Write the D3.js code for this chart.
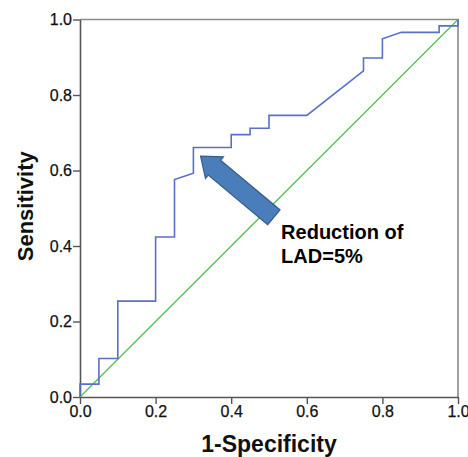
<!DOCTYPE html>
<html>
<head>
<meta charset="utf-8">
<script src="https://cdn.jsdelivr.net/npm/d3@7"></script>
<style>
  body { margin: 0; background: #fff; }
  text { font-family: Arial, "Liberation Sans", sans-serif; }
</style>
</head>
<body>
<div id="chart"></div>
<script>
// ROC curve
var fpr = [0, 0, 0.05, 0.05, 0.10, 0.10, 0.20, 0.20, 0.25, 0.25, 0.30, 0.30, 0.40, 0.40,
           0.45, 0.45, 0.50, 0.50, 0.60, 0.75, 0.75, 0.80, 0.80, 0.85, 0.95, 0.95, 1.0, 1.0];
var tpr = [0, 0.034, 0.034, 0.102, 0.102, 0.254, 0.254, 0.424, 0.424, 0.576, 0.593, 0.661, 0.661, 0.695,
           0.695, 0.712, 0.712, 0.746, 0.746, 0.864, 0.898, 0.898, 0.949, 0.966, 0.966, 0.983, 0.983, 1.0];
var refLine = [[0, 0], [1, 1]];
var ticks = [0, 0.2, 0.4, 0.6, 0.8, 1.0];
var arrowTip = [0.319, 0.638], arrowTail = [0.513, 0.476];
var noteAt = [0.532, 0.419];
var noteLines = ["Reduction of", "LAD=5%"];

var W = 468, H = 457;
var margin = {top: 19.5, right: 10, bottom: 60, left: 80};

var svg = d3.select("#chart").append("svg")
    .attr("width", W)
    .attr("height", H);

var x = d3.scaleLinear().domain([0, 1]).range([margin.left, W - margin.right]);
var y = d3.scaleLinear().domain([0, 1]).range([H - margin.bottom, margin.top]);

// frame (top/right)
svg.append("path")
    .attr("d", "M" + x(0) + "," + y(1) + "H" + x(1) + "V" + y(0))
    .attr("fill", "none")
    .attr("stroke", "#8a8a8a")
    .attr("stroke-width", 1.6);

// axes
var xAxis = svg.append("g")
    .attr("transform", "translate(0," + y(0) + ")")
    .call(d3.axisBottom(x).tickValues(ticks).tickFormat(d3.format(".1f")).tickSize(7).tickSizeOuter(0));
var yAxis = svg.append("g")
    .attr("transform", "translate(" + x(0) + ",0)")
    .call(d3.axisLeft(y).tickValues(ticks).tickFormat(d3.format(".1f")).tickSize(7).tickSizeOuter(0));

[xAxis, yAxis].forEach(function (g) {
    g.attr("font-size", 16).attr("font-family", "Arial, 'Liberation Sans', sans-serif");
    g.select(".domain").attr("stroke", "#555").attr("stroke-width", 1.6);
    g.selectAll(".tick line").attr("stroke", "#555").attr("stroke-width", 1.4);
    g.selectAll(".tick text")
        .attr("fill", "#111")
        .attr("stroke", "#111")
        .attr("stroke-width", 0.25);
});
xAxis.selectAll(".tick text").attr("dy", "0.95em").attr("y", 5);
yAxis.selectAll(".tick text").attr("x", -8);

// reference diagonal
svg.append("path")
    .datum(refLine)
    .attr("d", d3.line().x(function (d) { return x(d[0]); }).y(function (d) { return y(d[1]); }))
    .attr("fill", "none")
    .attr("stroke", "#4fc24f")
    .attr("stroke-width", 1.3);

// ROC curve
svg.append("path")
    .datum(d3.zip(fpr, tpr))
    .attr("d", d3.line().x(function (d) { return x(d[0]); }).y(function (d) { return y(d[1]); }))
    .attr("fill", "none")
    .attr("stroke", "#5b6fc4")
    .attr("stroke-width", 1.6);

// block arrow
var tx = x(arrowTip[0]), ty = y(arrowTip[1]);
var bx = x(arrowTail[0]), by = y(arrowTail[1]);
var len = Math.hypot(tx - bx, ty - by);
var ux = (tx - bx) / len, uy = (ty - by) / len;
var nx = -uy, ny = ux;
var headLen = 18, headHalf = 14, shaftHalf = 9.6;
function pt(a, b) { return [bx + ux * a + nx * b, by + uy * a + ny * b]; }
var arrowPts = [
    pt(0, -shaftHalf), pt(len - headLen, -shaftHalf), pt(len - headLen, -headHalf),
    pt(len, 0),
    pt(len - headLen, headHalf), pt(len - headLen, shaftHalf), pt(0, shaftHalf)
];
svg.append("polygon")
    .attr("points", arrowPts.map(function (p) { return p.join(","); }).join(" "))
    .attr("fill", "#4a7ebb")
    .attr("stroke", "#385d8a")
    .attr("stroke-width", 1.2);

// annotation
var note = svg.append("text")
    .attr("x", x(noteAt[0]))
    .attr("y", y(noteAt[1]))
    .attr("font-size", 20)
    .attr("font-weight", "bold")
    .attr("fill", "#000");
note.selectAll("tspan")
    .data(noteLines)
    .enter().append("tspan")
    .attr("x", x(noteAt[0]))
    .attr("dy", function (d, i) { return i === 0 ? 0 : 24; })
    .text(function (d) { return d; });

// axis titles
svg.append("text")
    .attr("x", (x(0) + x(1)) / 2)
    .attr("y", 452)
    .attr("text-anchor", "middle")
    .attr("font-size", 23)
    .attr("font-weight", "bold")
    .attr("fill", "#111")
    .text("1-Specificity");

svg.append("text")
    .attr("transform", "translate(33," + (y(0.5) - 2) + ") rotate(-90)")
    .attr("text-anchor", "middle")
    .attr("font-size", 22)
    .attr("font-weight", "bold")
    .attr("fill", "#111")
    .text("Sensitivity");
</script>
</body>
</html>
